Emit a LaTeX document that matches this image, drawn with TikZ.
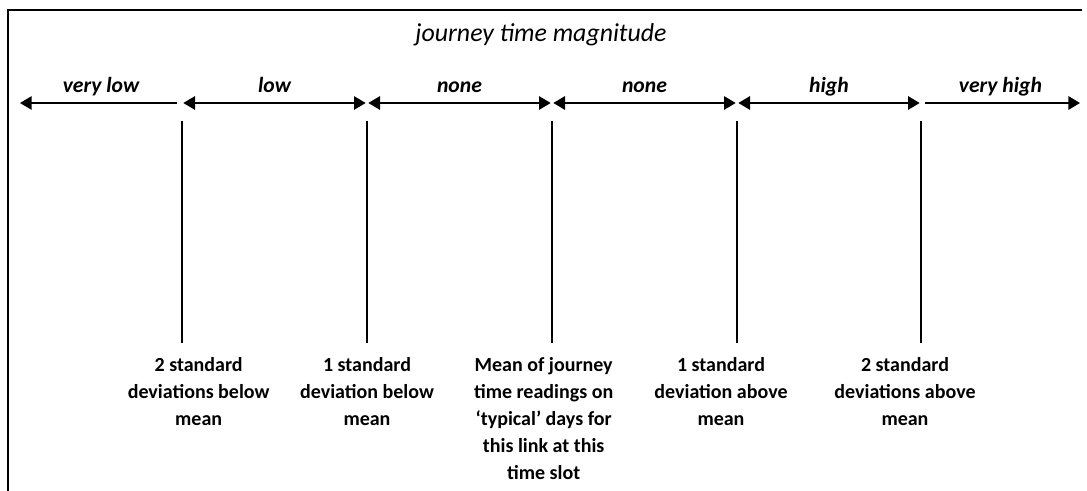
\documentclass[tikz,border=0pt]{standalone}
\usepackage{fontspec}
\setmainfont{Carlito}
\usetikzlibrary{arrows.meta,positioning,calc}
\tikzset{
    band/.style={
        line width=1.2pt,
        shorten <=0.8pt,
        shorten >=0.8pt,
    },
    level/.style={
        anchor=base,
        yshift=6pt,
        inner sep=0pt,
        font=\fontsize{13}{15}\selectfont\bfseries\itshape,
    },
    tickline/.style={
        line width=1.2pt,
    },
    note/.style={
        align=center,
        inner sep=0pt,
        font=\fontsize{12}{16.2}\selectfont\bfseries,
    },
}

\begin{document}
\begin{tikzpicture}[x=0.6pt,y=-0.6pt,node distance=8.5pt,>={Triangle[length=7pt,width=8pt]}]
    \useasboundingbox (0,0) rectangle (1087,491);
    % frame
    \draw[line width=1.2pt] (8,491) -- (8,10) -- (1082,10);
    \node [anchor=base,font=\fontsize{15.5}{18}\selectfont\itshape] (title) at (541,42) {journey time magnitude};
    % scale
    \coordinate (p0) at (20,103);
    \coordinate (p1) at (182,103);
    \coordinate (p2) at (367,103);
    \coordinate (p3) at (552,103);
    \coordinate (p4) at (737,103);
    \coordinate (p5) at (921,103);
    \coordinate (p6) at (1080,103);
    \draw[band,<-,shorten <=0pt,shorten >=3pt] (p0) -- node[level] (l0) {very low} (p1);
    \draw[band,<->] (p1) -- node[level] (l1) {low} (p2);
    \draw[band,<->] (p2) -- node[level] (l2) {none} (p3);
    \draw[band,<->] (p3) -- node[level] (l3) {none} (p4);
    \draw[band,<->] (p4) -- node[level] (l4) {high} (p5);
    \draw[band,->,shorten <=2.4pt,shorten >=0pt] (p5) -- node[level] (l5) {very high} (p6);
    % ticks
    \foreach \i/\x in {1/182,2/367,3/552,4/737,5/921} {
        \coordinate (t\i) at (\x,121);
        \coordinate (b\i) at (\x,343);
        \draw[tickline] (t\i) -- (b\i);
    }
    \node [note,below=of b1,xshift=10pt] (n1) {2 standard\\deviations below\\mean};
    \node [note,below=of b2] (n2) {1 standard\\deviation below\\mean};
    \node [note,below=of b3,xshift=-5pt] (n3) {Mean of journey\\time readings on\\‘typical’ days for\\this link at this\\time slot};
    \node [note,below=of b4,xshift=-9.6pt] (n4) {1 standard\\deviation above\\mean};
    \node [note,below=of b5,xshift=-9.6pt] (n5) {2 standard\\deviations above\\mean};
\end{tikzpicture}
\end{document}
